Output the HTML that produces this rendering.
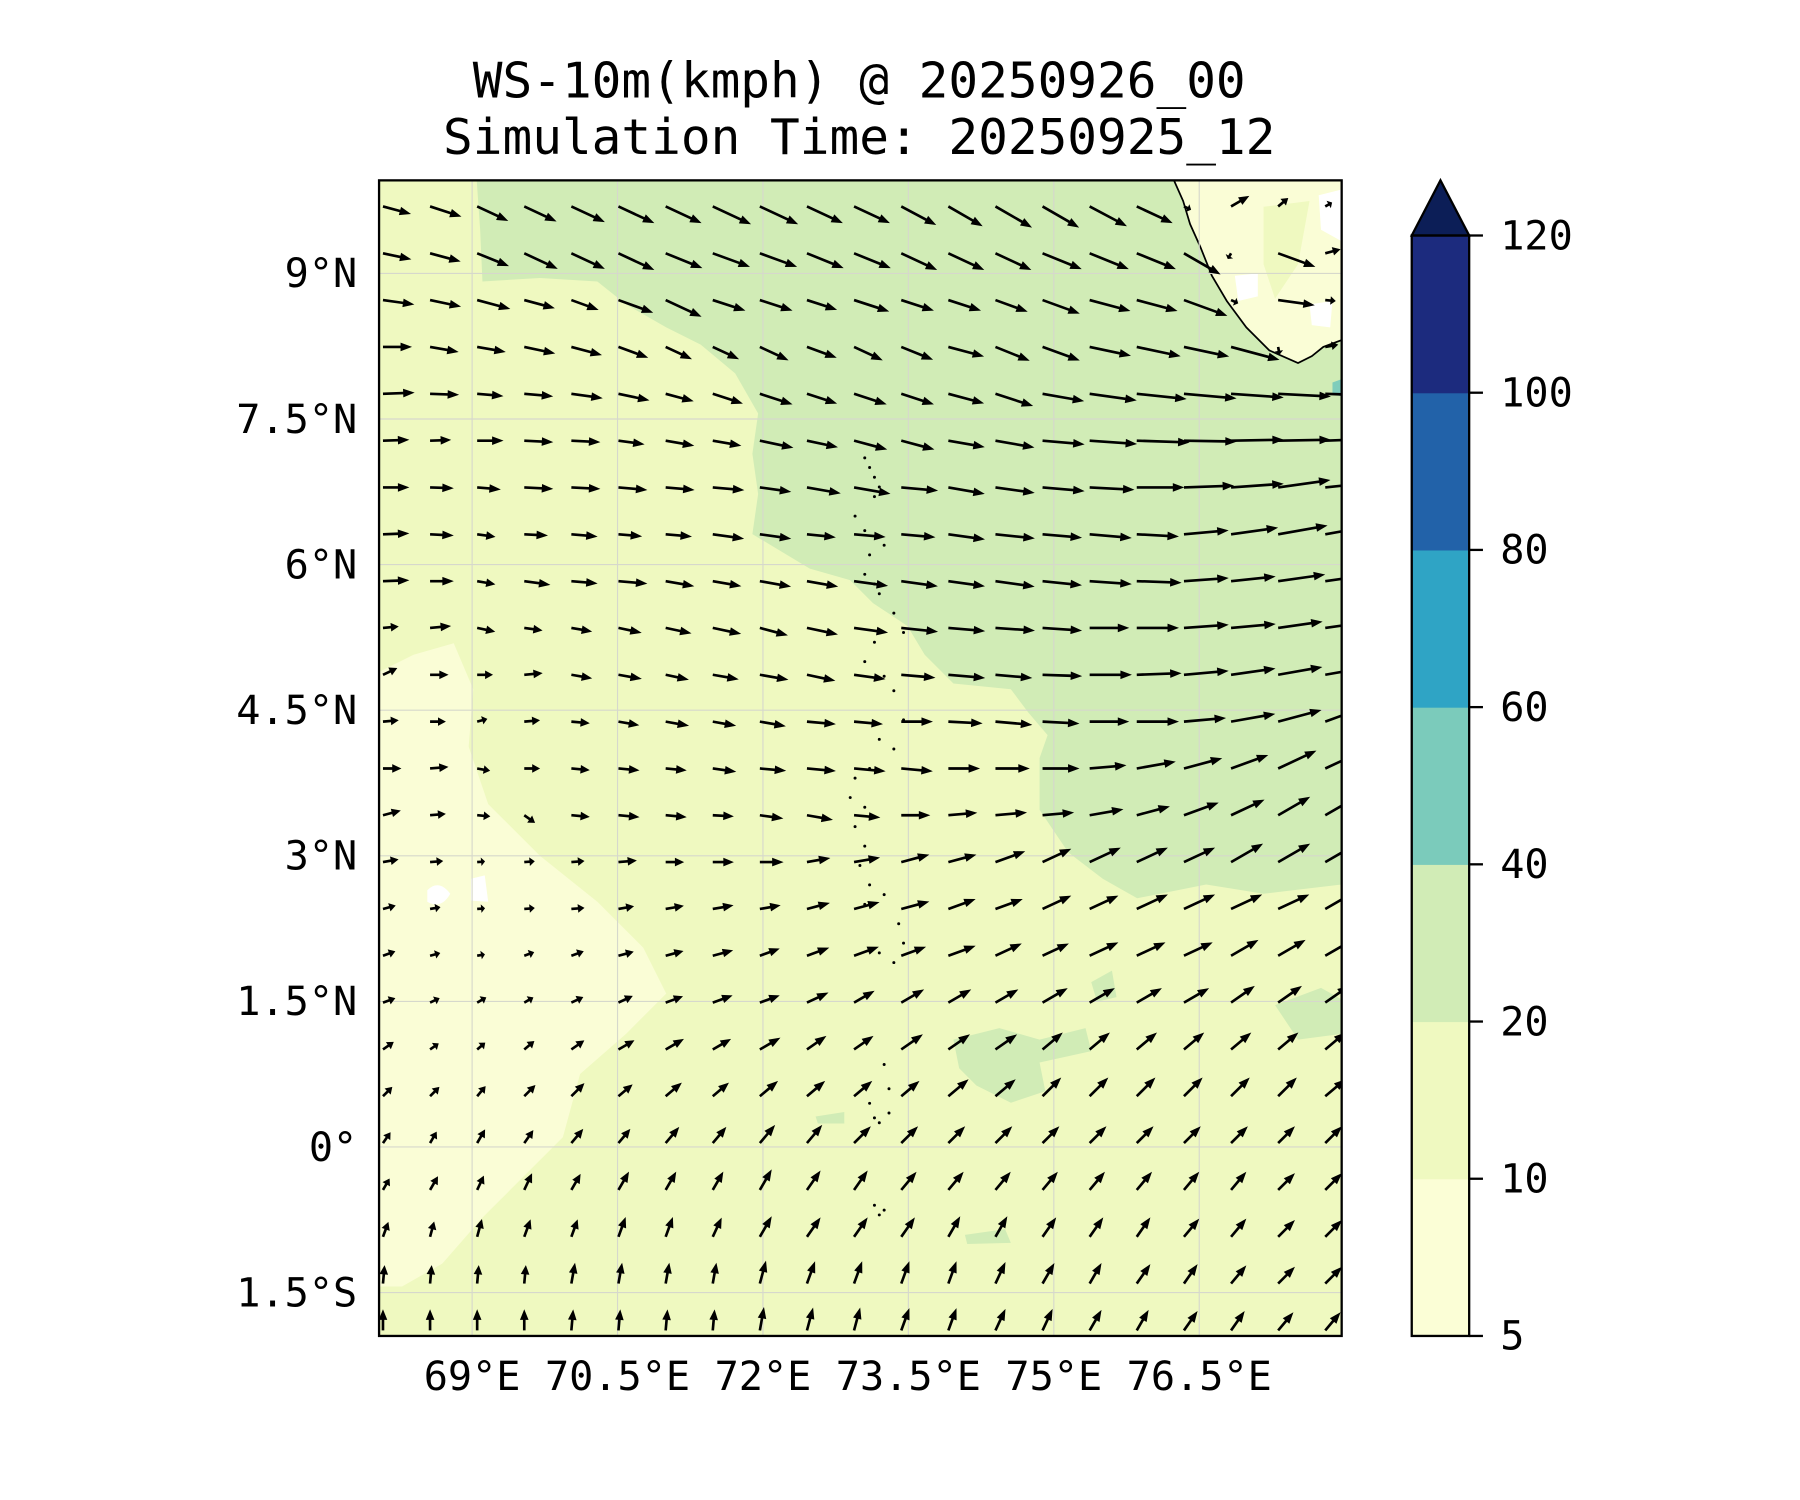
<!DOCTYPE html>
<html><head><meta charset="utf-8"><style>
html,body{margin:0;padding:0;background:#fff;}
svg{display:block;}
text{font-family:"DejaVu Sans Mono","Liberation Mono",monospace;fill:#000;}
</style></head><body>
<svg id="chart" width="1800" height="1500" viewBox="0 0 1567 1305.8" xmlns="http://www.w3.org/2000/svg">
<defs><clipPath id="pc"><rect x="330" y="157" width="838" height="1006"/></clipPath></defs>
<text x="748" y="85" font-size="43" text-anchor="middle">WS-10m(kmph) @ 20250926_00</text>
<text x="748" y="134" font-size="43" text-anchor="middle">Simulation Time: 20250925_12</text>
<g id="mapbg" clip-path="url(#pc)">
<rect x="330" y="157" width="838" height="1006" fill="#eff9c0"/>
<path fill="#fafdd6" d="M330,585 L360,570 L395,560 L412,600 L408,650 L425,700 L470,745 L520,785 L560,825 L580,865 L545,900 L505,935 L490,990 L450,1030 L420,1060 L385,1100 L350,1120 L330,1120 Z"/>
<path fill="#d1ecb6" d="M415,157 L1168,157 L1168,770 L1100,778 L1050,770 L990,782 L960,765 L930,742 L905,705 L905,660 L912,640 L895,620 L880,600 L830,595 L805,570 L790,545 L760,525 L740,505 L705,495 L680,480 L655,465 L660,430 L655,395 L660,360 L640,325 L610,300 L580,285 L545,265 L520,245 L470,242 L420,245 L418,200 Z"/>
<path fill="#d1ecb6" d="M830,905 L870,895 L905,905 L945,895 L950,915 L905,925 L910,950 L880,960 L850,945 L835,930 Z"/>
<path fill="#d1ecb6" d="M950,855 L968,845 L972,868 L955,872 Z M1110,875 L1150,860 L1168,870 L1168,900 L1130,905 Z M710,972 L735,968 L735,978 L712,978 Z M840,1075 L875,1070 L880,1082 L842,1083 Z"/>
<path fill="#fafdd6" stroke="#000" stroke-width="1.5" d="M1022,157 L1030,175 L1036,195 L1045,215 L1055,240 L1068,262 L1085,285 L1105,305 L1130,316 L1142,310 L1152,302 L1168,296 L1168,157 Z"/>
<path fill="#ffffff" d="M1148,170 L1168,165 L1168,210 L1150,200 Z M1075,240 L1095,238 L1095,258 L1078,262 Z M1140,265 L1160,262 L1158,285 L1142,283 Z"/>
<path fill="#eff9c0" d="M1100,180 L1140,175 L1130,230 L1110,260 L1100,230 Z"/>
<path fill="#7fcdbb" d="M1160,333 L1168,330 L1168,345 L1160,343 Z"/>
<path fill="#ffffff" d="M372,775 Q382,765 392,778 Q384,792 372,785 Z M410,765 L422,762 L425,785 L410,784 Z"/>
</g>
<g id="grid" clip-path="url(#pc)" stroke="#d6d8cc" stroke-width="1"></g>
<g id="islands" clip-path="url(#pc)" fill="#000"></g>
<g id="arrows" clip-path="url(#pc)"></g>
<rect x="330" y="157" width="838" height="1006" fill="none" stroke="#000" stroke-width="2"/>
<g id="xlabels"></g>
<g id="ylabels"></g>
<g id="cbar"></g>
</svg>
<script>
const NS="http://www.w3.org/2000/svg";
const lonTicks=[69,70.5,72,73.5,75,76.5];
const lonLabels=["69°E","70.5°E","72°E","73.5°E","75°E","76.5°E"];
const latTicks=[9,7.5,6,4.5,3,1.5,0,-1.5];
const latLabels=["9°N","7.5°N","6°N","4.5°N","3°N","1.5°N","0°","1.5°S"];
const cbLevels=[5,10,20,40,60,80,100,120];
const cbColors=["#fbfed6","#eff9c0","#d1ecb6","#7bcbbb","#2fa4c5","#2262a9","#1c2b7e"];
const cbExtendColor="#0c1e57";
// wind direction (deg, 0=east, 90=north) per row (north to south), 21 columns
const angles=[
[-15,-18,-25,-25,-25,-25,-25,-25,-25,-25,-25,-28,-30,-30,-30,-28,-25,-25,30,40,30],
[-12,-15,-22,-25,-25,-25,-22,-20,-20,-22,-22,-25,-25,-25,-22,-22,-22,-30,-120,-20,15],
[-8,-12,-15,-15,-20,-20,-25,-18,-18,-18,-18,-18,-18,-20,-20,-15,-15,-20,-25,-8,-5],
[0,-10,-10,-12,-15,-20,-25,-25,-25,-20,-25,-22,-15,-22,-20,-12,-12,-12,-15,-80,10],
[2,-2,-5,-5,-8,-12,-15,-18,-18,-18,-18,-18,-15,-18,-10,-8,-6,-5,-4,-3,-2],
[2,2,0,-3,-3,-8,-10,-10,-12,-12,-15,-15,-10,-10,-5,-4,-2,-1,1,1,2],
[0,-2,-5,-3,-3,-5,-5,-5,-8,-10,-10,-5,-10,-8,-5,-3,0,2,4,8,6],
[2,-3,-8,-3,-5,-5,-5,-8,-8,-6,-5,-5,-8,-6,-5,-5,-3,5,8,10,10],
[2,0,-10,-8,-5,-5,-10,-10,-10,-10,-8,-8,-8,-8,-6,-4,-2,4,6,8,8],
[5,5,-12,-8,-10,-12,-12,-12,-15,-12,-8,-6,-5,-4,-4,0,0,4,5,8,8],
[25,0,0,5,-10,-10,-12,-10,-10,-12,-8,-5,-5,-5,-2,0,2,5,8,10,10],
[5,0,15,5,-5,-10,-10,-10,-10,-5,-5,0,-3,-5,-3,0,0,5,10,15,20],
[0,5,-10,0,-5,-5,-5,-8,-5,-5,-5,-5,0,0,0,5,10,15,20,25,25],
[15,5,-5,-35,-5,-5,-5,-3,-8,-10,-5,0,5,5,5,10,15,20,25,30,30],
[10,5,5,5,5,5,0,0,0,10,10,15,15,20,25,25,25,25,30,30,30],
[15,10,5,5,5,10,10,10,10,15,15,15,20,20,25,25,25,25,25,25,30],
[20,15,10,20,20,15,15,15,20,20,20,20,20,25,25,25,25,25,30,30,30],
[20,25,30,30,25,25,20,20,20,25,30,30,30,30,30,30,30,30,35,35,35],
[35,35,40,40,35,30,30,30,30,35,35,35,35,35,40,40,40,40,40,40,40],
[45,45,50,45,45,40,40,40,40,40,40,40,40,40,45,45,45,45,45,45,40],
[55,60,60,55,50,50,50,50,50,50,45,45,45,45,45,45,45,45,45,45,45],
[60,60,65,65,60,60,60,60,60,55,55,50,50,50,50,50,50,50,50,45,45],
[70,75,75,70,70,70,70,65,60,55,55,55,60,60,55,55,55,50,50,45,45],
[85,85,85,85,80,80,80,80,75,70,70,70,70,65,60,60,55,55,50,45,45],
[90,90,90,90,85,85,85,85,80,75,75,70,70,65,65,60,60,55,55,50,50]];
// wind magnitude (arrow length units) per row
const mags=[
[22,25,26,27,28,30,30,32,32,30,30,30,30,32,32,32,30,6,16,10,6],
[22,24,26,28,28,30,30,30,30,30,30,30,30,30,32,32,32,32,5,30,12],
[24,24,26,24,22,28,30,26,26,24,28,26,26,26,30,32,32,35,6,28,8],
[22,22,22,24,24,24,22,22,24,24,24,26,28,28,30,32,34,35,38,6,10],
[24,22,20,22,24,24,22,24,26,24,26,26,28,30,32,36,38,40,40,40,30],
[20,16,20,22,22,20,22,22,26,24,26,26,28,30,32,36,40,40,40,40,30],
[20,18,18,22,22,22,22,24,24,26,28,28,28,30,32,34,36,38,40,40,36],
[20,18,14,18,20,18,20,24,24,22,24,26,28,30,30,32,32,34,36,38,36],
[20,18,14,20,20,22,22,22,24,24,26,28,28,30,30,32,34,34,34,36,36],
[12,16,14,14,16,18,20,22,22,24,26,28,28,30,30,30,32,34,34,34,34],
[12,14,12,14,16,18,18,20,22,22,24,26,28,28,30,32,34,34,34,34,34],
[12,12,8,12,14,16,18,18,20,22,22,24,26,28,28,30,32,32,34,34,34],
[14,14,10,12,14,16,16,18,20,22,24,24,24,26,28,28,30,30,30,32,32],
[14,12,10,10,14,16,16,16,18,20,20,22,22,24,24,26,26,28,28,28,30],
[12,10,6,8,10,14,14,16,18,18,20,22,22,24,24,26,26,26,28,28,28],
[10,8,6,8,10,12,14,16,16,18,20,22,22,22,24,24,26,26,26,26,28],
[10,8,6,8,10,12,14,16,16,18,20,20,22,22,22,24,24,24,24,24,26],
[10,8,8,8,10,12,14,16,16,18,18,20,20,20,22,22,22,22,22,22,22],
[10,8,8,10,12,14,16,16,18,18,18,20,20,20,20,20,20,20,20,20,20],
[10,10,10,12,14,14,16,16,18,18,18,18,20,20,20,20,20,20,20,20,20],
[10,10,12,12,14,14,16,16,18,18,18,18,18,18,18,18,18,18,18,18,18],
[10,12,12,14,14,16,16,16,18,18,18,18,18,18,18,18,18,18,18,18,18],
[12,12,14,14,14,16,16,16,18,18,18,18,18,18,18,18,18,18,18,18,18],
[14,14,14,14,16,16,16,16,18,18,18,18,18,18,18,18,18,18,18,18,18],
[16,16,16,16,16,16,16,16,18,18,18,18,18,18,18,18,18,18,18,18,18]];
const gridLon0=68.08, gridDLon=0.486, gridLat0=9.69, gridDLat=-0.4825;
const islandLonLat=[[73.05,7.1],[73.1,7.0],[73.15,6.9],[73.2,6.8],[73.15,6.7],[72.95,6.5],[73.05,6.35],[73.25,6.2],[73.1,6.1],[73.05,5.9],[73.15,5.8],[73.2,5.7],[73.35,5.5],[73.45,5.3],[73.15,5.2],[73.05,5.0],[73.25,4.85],[73.35,4.7],[73.45,4.4],[73.2,4.2],[73.35,4.1],[73.1,3.9],[72.95,3.8],[72.9,3.6],[73.05,3.5],[72.95,3.3],[73.05,3.1],[73.0,2.9],[73.1,2.7],[73.25,2.6],[73.05,2.5],[73.4,2.3],[73.45,2.1],[73.2,2.0],[73.35,1.9],[73.25,0.85],[73.3,0.6],[73.1,0.45],[73.15,0.3],[73.2,0.25],[73.3,0.35],[73.15,-0.6],[73.2,-0.7],[73.25,-0.65]];
const arrowScale=1.15;
function X(lon){return 411+(lon-69)*84.4;}
function Y(lat){return 238-(lat-9)*84.5;}
function mk(tag,attrs,parent){const e=document.createElementNS(NS,tag);for(const k in attrs)e.setAttribute(k,attrs[k]);parent.appendChild(e);return e;}
const g=document.getElementById('grid');
lonTicks.forEach(v=>{const l=mk('line',{x1:X(v),x2:X(v),y1:157,y2:1163},g);

});
latTicks.forEach(v=>{const l=mk('line',{x1:330,x2:1168,y1:Y(v),y2:Y(v)},g);

});
const xl=document.getElementById('xlabels');
lonTicks.forEach((v,i)=>{const t=mk('text',{x:X(v),y:1210,'font-size':35,'text-anchor':'middle'},xl);t.textContent=lonLabels[i];

});
const yl=document.getElementById('ylabels');
latTicks.forEach((v,i)=>{const t=mk('text',{x:311,y:Y(v)+12,'font-size':35,'text-anchor':'end'},yl);t.textContent=latLabels[i];

});
const isl=document.getElementById('islands');
islandLonLat.forEach(p=>{const c=mk('circle',{cx:X(p[0]),cy:Y(p[1]),r:1.3},isl);

});
const ag=document.getElementById('arrows');
angles.forEach((row,j)=>{row.forEach((a,i)=>{
 const L=mags[j][i]*arrowScale;const x=X(gridLon0+i*gridDLon), y=Y(gridLat0+j*gridDLat);
 const h=Math.min(10,L*0.5), hw=7.5, w=2.3;
 const pts=[[0,-w/2],[L-h,-w/2],[L-h,-hw/2],[L,0],[L-h,hw/2],[L-h,w/2],[0,w/2]].map(p=>p.join(',')).join(' ');
 const p=mk('polygon',{points:pts,fill:'#000',transform:`translate(${x.toFixed(1)},${y.toFixed(1)}) rotate(${-a})`},ag);
 
 
});});
const cb=document.getElementById('cbar');
const cbX=1229,cbW=50,cbTop=205,cbBot=1163;
function CY(i){return cbBot-(cbBot-cbTop)*i/(cbLevels.length-1);}
cbColors.forEach((c,i)=>{const r=mk('rect',{x:cbX,y:CY(i+1),width:cbW,height:CY(i)-CY(i+1)+0.5,fill:c},cb);

});
const tri=mk('polygon',{points:`${cbX},${cbTop} ${cbX+cbW/2},157 ${cbX+cbW},${cbTop}`,fill:cbExtendColor,stroke:'#000','stroke-width':2},cb);


const fr=mk('rect',{x:cbX,y:cbTop,width:cbW,height:cbBot-cbTop,fill:'none',stroke:'#000','stroke-width':2},cb);


cbLevels.forEach((v,i)=>{const y=CY(i);
 const tk=mk('line',{x1:cbX+cbW,x2:cbX+cbW+12,y1:y,y2:y,stroke:'#000','stroke-width':2},cb);
 
 
 const t=mk('text',{x:1306,y:y+12,'font-size':35},cb);t.textContent=v;
 
 });
</script>
</body></html>
